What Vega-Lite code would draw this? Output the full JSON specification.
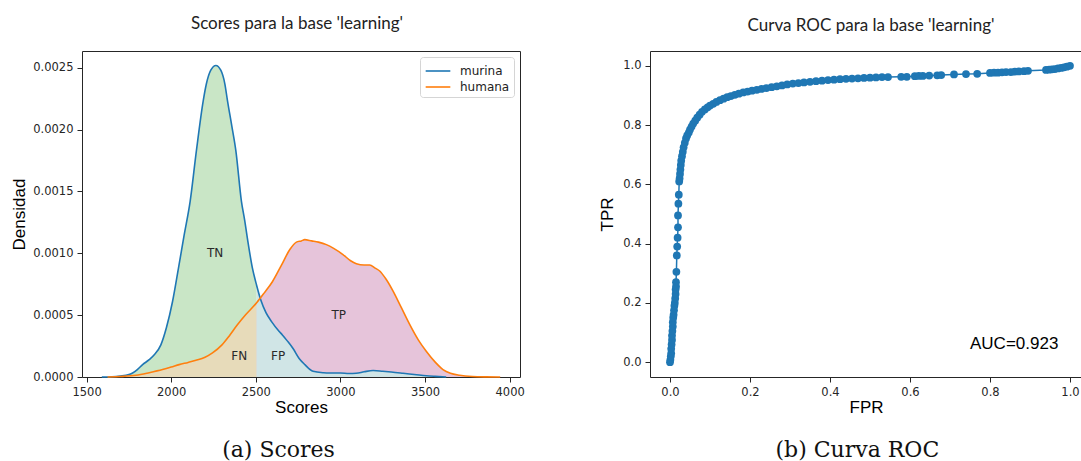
{
  "$schema": "https://vega.github.io/schema/vega-lite/v6.json",
  "padding": {"left": 10, "top": 14, "right": 0, "bottom": 0},
  "background": "white",
  "config": {
    "view": {"stroke": "#262626", "strokeWidth": 1},
    "axis": {"domain": false, "grid": false, "tickColor": "#262626", "tickSize": 5, "tickWidth": 1, "labelFont": "DejaVu Sans", "labelFontSize": 11.5, "labelColor": "#262626", "labelPadding": 4, "titleFont": "Liberation Sans", "titleFontSize": 17, "titleFontWeight": "normal", "titleColor": "#000000", "titlePadding": 2},
    "title": {"font": "Lato", "fontSize": 17, "fontWeight": "normal", "color": "#222222", "anchor": "middle"}
  },
  "datasets": {
    "dens": [
      {"series": "murina", "score": 1590, "density": 0},
      {"series": "murina", "score": 1650, "density": 0.000002},
      {"series": "murina", "score": 1700, "density": 0.000008},
      {"series": "murina", "score": 1750, "density": 0.00002},
      {"series": "murina", "score": 1772, "density": 0.000032},
      {"series": "murina", "score": 1800, "density": 0.00006},
      {"series": "murina", "score": 1831, "density": 0.0001},
      {"series": "murina", "score": 1870, "density": 0.00014},
      {"series": "murina", "score": 1900, "density": 0.00018},
      {"series": "murina", "score": 1939, "density": 0.00026},
      {"series": "murina", "score": 1972, "density": 0.0004},
      {"series": "murina", "score": 2008, "density": 0.00061},
      {"series": "murina", "score": 2043, "density": 0.00088},
      {"series": "murina", "score": 2077, "density": 0.00115},
      {"series": "murina", "score": 2112, "density": 0.00142},
      {"series": "murina", "score": 2149, "density": 0.00183},
      {"series": "murina", "score": 2189, "density": 0.00223},
      {"series": "murina", "score": 2208, "density": 0.00237},
      {"series": "murina", "score": 2234, "density": 0.00248},
      {"series": "murina", "score": 2264, "density": 0.002518},
      {"series": "murina", "score": 2293, "density": 0.00248},
      {"series": "murina", "score": 2317, "density": 0.00237},
      {"series": "murina", "score": 2333, "density": 0.00223},
      {"series": "murina", "score": 2358, "density": 0.00203},
      {"series": "murina", "score": 2382, "density": 0.00183},
      {"series": "murina", "score": 2415, "density": 0.00142},
      {"series": "murina", "score": 2435, "density": 0.00126},
      {"series": "murina", "score": 2447, "density": 0.00115},
      {"series": "murina", "score": 2480, "density": 0.00088},
      {"series": "murina", "score": 2505, "density": 0.00074},
      {"series": "murina", "score": 2530, "density": 0.00062},
      {"series": "murina", "score": 2560, "density": 0.00052},
      {"series": "murina", "score": 2592, "density": 0.00045},
      {"series": "murina", "score": 2637, "density": 0.00037},
      {"series": "murina", "score": 2657, "density": 0.00034},
      {"series": "murina", "score": 2687, "density": 0.00029},
      {"series": "murina", "score": 2720, "density": 0.00023},
      {"series": "murina", "score": 2756, "density": 0.00015},
      {"series": "murina", "score": 2790, "density": 0.0001},
      {"series": "murina", "score": 2838, "density": 0.000046},
      {"series": "murina", "score": 2900, "density": 0.000034},
      {"series": "murina", "score": 2937, "density": 0.000032},
      {"series": "murina", "score": 3000, "density": 0.000032},
      {"series": "murina", "score": 3050, "density": 0.000028},
      {"series": "murina", "score": 3093, "density": 0.00003},
      {"series": "murina", "score": 3140, "density": 0.000042},
      {"series": "murina", "score": 3193, "density": 0.000052},
      {"series": "murina", "score": 3250, "density": 0.000046},
      {"series": "murina", "score": 3300, "density": 0.00004},
      {"series": "murina", "score": 3370, "density": 0.00003},
      {"series": "murina", "score": 3450, "density": 0.000018},
      {"series": "murina", "score": 3507, "density": 0.00001},
      {"series": "murina", "score": 3560, "density": 0.000005},
      {"series": "murina", "score": 3625, "density": 0},
      {"series": "humana", "score": 1624, "density": 0},
      {"series": "humana", "score": 1700, "density": 0.000004},
      {"series": "humana", "score": 1792, "density": 0.000014},
      {"series": "humana", "score": 1870, "density": 0.000035},
      {"series": "humana", "score": 1949, "density": 0.00006},
      {"series": "humana", "score": 2000, "density": 0.00008},
      {"series": "humana", "score": 2047, "density": 0.0001},
      {"series": "humana", "score": 2100, "density": 0.000118},
      {"series": "humana", "score": 2146, "density": 0.000135},
      {"series": "humana", "score": 2200, "density": 0.00016},
      {"series": "humana", "score": 2244, "density": 0.000195},
      {"series": "humana", "score": 2300, "density": 0.00026},
      {"series": "humana", "score": 2342, "density": 0.00033},
      {"series": "humana", "score": 2390, "density": 0.00042},
      {"series": "humana", "score": 2441, "density": 0.000505},
      {"series": "humana", "score": 2505, "density": 0.0006},
      {"series": "humana", "score": 2550, "density": 0.00068},
      {"series": "humana", "score": 2598, "density": 0.00077},
      {"series": "humana", "score": 2650, "density": 0.0009},
      {"series": "humana", "score": 2701, "density": 0.00103},
      {"series": "humana", "score": 2740, "density": 0.00109},
      {"series": "humana", "score": 2769, "density": 0.0011},
      {"series": "humana", "score": 2789, "density": 0.00111},
      {"series": "humana", "score": 2830, "density": 0.0011},
      {"series": "humana", "score": 2870, "density": 0.00109},
      {"series": "humana", "score": 2917, "density": 0.00107},
      {"series": "humana", "score": 2960, "density": 0.00104},
      {"series": "humana", "score": 3015, "density": 0.00099},
      {"series": "humana", "score": 3060, "density": 0.00094},
      {"series": "humana", "score": 3094, "density": 0.000916},
      {"series": "humana", "score": 3140, "density": 0.000905},
      {"series": "humana", "score": 3173, "density": 0.000905},
      {"series": "humana", "score": 3205, "density": 0.00088},
      {"series": "humana", "score": 3232, "density": 0.000857},
      {"series": "humana", "score": 3270, "density": 0.00079},
      {"series": "humana", "score": 3311, "density": 0.000694},
      {"series": "humana", "score": 3360, "density": 0.00056},
      {"series": "humana", "score": 3409, "density": 0.000425},
      {"series": "humana", "score": 3460, "density": 0.0003},
      {"series": "humana", "score": 3507, "density": 0.000208},
      {"series": "humana", "score": 3560, "density": 0.00012},
      {"series": "humana", "score": 3606, "density": 0.00006},
      {"series": "humana", "score": 3650, "density": 0.00003},
      {"series": "humana", "score": 3704, "density": 0.000014},
      {"series": "humana", "score": 3780, "density": 0.000004},
      {"series": "humana", "score": 3860, "density": 0.000001},
      {"series": "humana", "score": 3944, "density": 0}
    ],
    "labels": [
      {"label": "TN", "score": 2260, "density": 0.001},
      {"label": "FN", "score": 2402, "density": 0.00017},
      {"label": "FP", "score": 2632, "density": 0.00017},
      {"label": "TP", "score": 2990, "density": 0.0005}
    ],
    "auc": [
      {"label": "AUC=0.923", "fpr": 0.75, "tpr": 0.045}
    ],
    "roc": [
      {"fpr": 0, "tpr": 0}, {"fpr": 0.001, "tpr": 0.008}, {"fpr": 0.002, "tpr": 0.02}, {"fpr": 0.003, "tpr": 0.03},
      {"fpr": 0.003, "tpr": 0.045}, {"fpr": 0.004, "tpr": 0.06}, {"fpr": 0.005, "tpr": 0.075}, {"fpr": 0.005, "tpr": 0.09},
      {"fpr": 0.006, "tpr": 0.105}, {"fpr": 0.007, "tpr": 0.12}, {"fpr": 0.007, "tpr": 0.135}, {"fpr": 0.008, "tpr": 0.15},
      {"fpr": 0.009, "tpr": 0.16}, {"fpr": 0.01, "tpr": 0.175}, {"fpr": 0.011, "tpr": 0.19}, {"fpr": 0.012, "tpr": 0.2},
      {"fpr": 0.013, "tpr": 0.215}, {"fpr": 0.014, "tpr": 0.23}, {"fpr": 0.014, "tpr": 0.245}, {"fpr": 0.015, "tpr": 0.255},
      {"fpr": 0.015, "tpr": 0.27}, {"fpr": 0.016, "tpr": 0.305}, {"fpr": 0.017, "tpr": 0.36}, {"fpr": 0.018, "tpr": 0.39},
      {"fpr": 0.019, "tpr": 0.42}, {"fpr": 0.02, "tpr": 0.455}, {"fpr": 0.02, "tpr": 0.495}, {"fpr": 0.021, "tpr": 0.535},
      {"fpr": 0.022, "tpr": 0.565}, {"fpr": 0.023, "tpr": 0.61}, {"fpr": 0.024, "tpr": 0.62}, {"fpr": 0.025, "tpr": 0.635},
      {"fpr": 0.026, "tpr": 0.65}, {"fpr": 0.027, "tpr": 0.665}, {"fpr": 0.028, "tpr": 0.68}, {"fpr": 0.03, "tpr": 0.695},
      {"fpr": 0.032, "tpr": 0.71}, {"fpr": 0.034, "tpr": 0.725}, {"fpr": 0.037, "tpr": 0.74}, {"fpr": 0.04, "tpr": 0.755},
      {"fpr": 0.043, "tpr": 0.765}, {"fpr": 0.047, "tpr": 0.775}, {"fpr": 0.05, "tpr": 0.785}, {"fpr": 0.054, "tpr": 0.795},
      {"fpr": 0.058, "tpr": 0.805}, {"fpr": 0.063, "tpr": 0.815}, {"fpr": 0.068, "tpr": 0.825}, {"fpr": 0.074, "tpr": 0.835},
      {"fpr": 0.08, "tpr": 0.845}, {"fpr": 0.087, "tpr": 0.853}, {"fpr": 0.094, "tpr": 0.86}, {"fpr": 0.1, "tpr": 0.866},
      {"fpr": 0.108, "tpr": 0.872}, {"fpr": 0.116, "tpr": 0.878}, {"fpr": 0.125, "tpr": 0.884}, {"fpr": 0.134, "tpr": 0.889},
      {"fpr": 0.143, "tpr": 0.894}, {"fpr": 0.152, "tpr": 0.898}, {"fpr": 0.162, "tpr": 0.902}, {"fpr": 0.172, "tpr": 0.906},
      {"fpr": 0.183, "tpr": 0.91}, {"fpr": 0.194, "tpr": 0.913}, {"fpr": 0.205, "tpr": 0.916}, {"fpr": 0.217, "tpr": 0.919},
      {"fpr": 0.229, "tpr": 0.922}, {"fpr": 0.241, "tpr": 0.925}, {"fpr": 0.254, "tpr": 0.928}, {"fpr": 0.267, "tpr": 0.931},
      {"fpr": 0.28, "tpr": 0.934}, {"fpr": 0.293, "tpr": 0.937}, {"fpr": 0.307, "tpr": 0.94}, {"fpr": 0.321, "tpr": 0.942},
      {"fpr": 0.335, "tpr": 0.944}, {"fpr": 0.35, "tpr": 0.946}, {"fpr": 0.365, "tpr": 0.948}, {"fpr": 0.38, "tpr": 0.95},
      {"fpr": 0.395, "tpr": 0.952}, {"fpr": 0.41, "tpr": 0.953}, {"fpr": 0.425, "tpr": 0.955}, {"fpr": 0.44, "tpr": 0.956},
      {"fpr": 0.455, "tpr": 0.957}, {"fpr": 0.47, "tpr": 0.958}, {"fpr": 0.485, "tpr": 0.959}, {"fpr": 0.5, "tpr": 0.96},
      {"fpr": 0.515, "tpr": 0.961}, {"fpr": 0.53, "tpr": 0.962}, {"fpr": 0.545, "tpr": 0.962}, {"fpr": 0.578, "tpr": 0.963},
      {"fpr": 0.592, "tpr": 0.963}, {"fpr": 0.612, "tpr": 0.965}, {"fpr": 0.622, "tpr": 0.966}, {"fpr": 0.632, "tpr": 0.966},
      {"fpr": 0.648, "tpr": 0.967}, {"fpr": 0.668, "tpr": 0.968}, {"fpr": 0.678, "tpr": 0.969}, {"fpr": 0.71, "tpr": 0.971},
      {"fpr": 0.74, "tpr": 0.972}, {"fpr": 0.768, "tpr": 0.973}, {"fpr": 0.8, "tpr": 0.976}, {"fpr": 0.81, "tpr": 0.977},
      {"fpr": 0.82, "tpr": 0.977}, {"fpr": 0.83, "tpr": 0.978}, {"fpr": 0.84, "tpr": 0.979}, {"fpr": 0.852, "tpr": 0.979},
      {"fpr": 0.862, "tpr": 0.98}, {"fpr": 0.872, "tpr": 0.981}, {"fpr": 0.885, "tpr": 0.982}, {"fpr": 0.895, "tpr": 0.983},
      {"fpr": 0.94, "tpr": 0.986}, {"fpr": 0.948, "tpr": 0.987}, {"fpr": 0.955, "tpr": 0.988}, {"fpr": 0.962, "tpr": 0.989},
      {"fpr": 0.97, "tpr": 0.991}, {"fpr": 0.978, "tpr": 0.993}, {"fpr": 0.985, "tpr": 0.995}, {"fpr": 0.992, "tpr": 0.997},
      {"fpr": 1.0, "tpr": 1.0}
    ]
  },
  "hconcat": [
    {
      "title": {"text": "(a) Scores", "orient": "bottom", "font": "DejaVu Serif", "fontSize": 22, "color": "#111111", "offset": 24, "anchor": "middle", "dx": 11},
      "resolve": {"scale": {"color": "independent"}, "legend": {"color": "independent"}},
      "vconcat": [
        {
          "width": 438,
          "height": 326,
          "title": {"text": "Scores para la base 'learning'", "offset": 18, "dx": -4},
          "layer": [
            {
              "data": {"name": "dens"},
              "encoding": {
                "x": {"field": "score", "type": "quantitative", "title": "Scores", "scale": {"domain": [1473, 4061], "nice": false, "zero": false}, "axis": {"values": [1500, 2000, 2500, 3000, 3500, 4000], "format": "d"}},
                "y": {"field": "density", "type": "quantitative", "title": "Densidad", "scale": {"domain": [0, 0.002635], "nice": false}, "axis": {"values": [0, 0.0005, 0.001, 0.0015, 0.002, 0.0025], "format": ".4f", "titlePadding": 4}}
              },
              "layer": [
                {"transform": [{"filter": "datum.series == 'murina' && datum.score <= 2505"}], "mark": {"type": "area", "color": "#c9e6c6", "opacity": 1, "interpolate": "monotone"}},
                {"transform": [{"filter": "datum.series == 'humana' && datum.score <= 2505"}], "mark": {"type": "area", "color": "#e7dbba", "opacity": 1, "interpolate": "monotone"}},
                {"transform": [{"filter": "datum.series == 'humana' && datum.score >= 2505"}], "mark": {"type": "area", "color": "#e6c4da", "opacity": 1, "interpolate": "monotone"}},
                {"transform": [{"filter": "datum.series == 'murina' && datum.score >= 2505"}], "mark": {"type": "area", "color": "#d0e5e6", "opacity": 1, "interpolate": "monotone"}},
                {
                  "mark": {"type": "line", "strokeWidth": 1.6, "interpolate": "monotone"},
                  "encoding": {
                    "color": {"field": "series", "type": "nominal", "scale": {"domain": ["murina", "humana"], "range": ["#1f77b4", "#ff7f0e"]},
                      "legend": {"title": null, "orient": "top-right", "offset": 6, "fillColor": "white", "strokeColor": "#d5d5d5", "cornerRadius": 3, "padding": 4, "symbolType": "M-1.4,0H1.4", "symbolSize": 310, "symbolStrokeWidth": 1.6, "symbolOffset": 4, "labelFont": "DejaVu Sans", "labelFontSize": 12, "labelColor": "#222222", "labelOffset": 12, "rowPadding": 0}}
                  }
                }
              ]
            },
            {
              "mark": {"type": "rule", "color": "#008000", "strokeWidth": 1.6},
              "encoding": {"x": {"datum": 2505}}
            },
            {
              "data": {"name": "labels"},
              "mark": {"type": "text", "font": "DejaVu Sans", "fontSize": 12, "color": "#2a2a2a", "align": "center", "baseline": "middle"},
              "encoding": {
                "x": {"field": "score", "type": "quantitative", "scale": {"domain": [1473, 4061], "nice": false, "zero": false}},
                "y": {"field": "density", "type": "quantitative", "scale": {"domain": [0, 0.002635], "nice": false}},
                "text": {"field": "label"}
              }
            }
          ]
        }
      ]
    },
    {
      "title": {"text": "(b) Curva ROC", "orient": "bottom", "font": "DejaVu Serif", "fontSize": 22, "color": "#111111", "offset": 24, "anchor": "middle", "dx": 17},
      "vconcat": [
        {
          "width": 432,
          "height": 326,
          "title": {"text": "Curva ROC para la base 'learning'", "offset": 16, "dx": 5},
          "layer": [
            {
              "data": {"name": "roc"},
              "mark": {"type": "line", "color": "#1f77b4", "strokeWidth": 1.5, "point": {"filled": true, "size": 60, "color": "#1f77b4", "opacity": 1}},
              "encoding": {
                "x": {"field": "fpr", "type": "quantitative", "title": "FPR", "scale": {"domain": [-0.05, 1.03], "nice": false, "zero": false}, "axis": {"values": [0, 0.2, 0.4, 0.6, 0.8, 1.0], "format": ".1f"}},
                "y": {"field": "tpr", "type": "quantitative", "title": "TPR", "scale": {"domain": [-0.05, 1.05], "nice": false, "zero": false}, "axis": {"values": [0, 0.2, 0.4, 0.6, 0.8, 1.0], "format": ".1f", "titlePadding": 6}},
                "order": {"value": null}
              }
            },
            {
              "data": {"name": "auc"},
              "mark": {"type": "text", "font": "Liberation Sans", "fontSize": 17, "color": "#000000", "align": "left", "baseline": "alphabetic"},
              "encoding": {
                "x": {"field": "fpr", "type": "quantitative"},
                "y": {"field": "tpr", "type": "quantitative"},
                "text": {"field": "label"}
              }
            }
          ]
        }
      ]
    }
  ],
  "spacing": 73
}
